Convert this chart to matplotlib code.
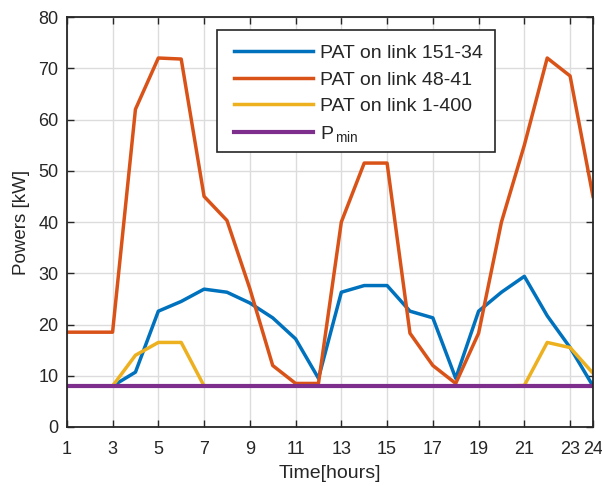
import numpy as np
import matplotlib
matplotlib.use('Agg')
import matplotlib.pyplot as plt
from matplotlib.patches import Rectangle

plt.rcParams['font.family'] = ['Liberation Sans', 'DejaVu Sans']

# Data
hours = list(range(1, 25))
pat_151_34 = [8, 8, 8, 10.7, 22.6, 24.5, 26.9, 26.3, 24.2, 21.3, 17.2, 9.5,
              26.3, 27.6, 27.6, 22.6, 21.3, 9.5, 22.6, 26.3, 29.4, 21.7, 15.5, 8]
pat_48_41 = [18.5, 18.5, 18.5, 62, 72, 71.8, 45, 40.3, 27, 12, 8.5, 8.5,
             40, 51.5, 51.5, 18.3, 12, 8.5, 18.3, 40, 55, 72, 68.5, 45]
pat_1_400 = [8, 8, 8, 14, 16.5, 16.5, 8, 8, 8, 8, 8, 8,
             8, 8, 8, 8, 8, 8, 8, 8, 8.1, 16.5, 15.5, 10.5]
p_min = [8] * 24

xticks = [1, 3, 5, 7, 9, 11, 13, 15, 17, 19, 21, 23, 24]
yticks = list(range(0, 81, 10))

txt = '#262626'

fig = plt.figure(figsize=(6.02, 4.86), dpi=100)
ax = fig.add_axes([0.111, 0.1214, 0.874, 0.8436])

lw = 2.5
ax.plot(hours, pat_151_34, color='#0072BD', lw=lw, label='PAT on link 151-34')
ax.plot(hours, pat_48_41, color='#D95319', lw=lw, label='PAT on link 48-41')
ax.plot(hours, pat_1_400, color='#EDB120', lw=lw, label='PAT on link 1-400')
ax.plot(hours, p_min, color='#7E2F8E', lw=lw + 0.5, label=r'P$_{\mathregular{\,min}}$')

ax.set_xlim(1, 24)
ax.set_ylim(0, 80)
ax.set_xticks(xticks)
ax.set_yticks(yticks)
ax.grid(True, color='#dcdcdc', lw=1)
ax.set_axisbelow(True)
ax.tick_params(direction='in', top=True, right=True, length=5, width=1,
               labelsize=13, colors=txt, pad=6)
ax.tick_params(axis='x', pad=10)
for s in ax.spines.values():
    s.set_color(txt)
    s.set_linewidth(1.3)

ax.set_xlabel('Time[hours]', fontsize=14, color=txt, labelpad=5)
ax.set_ylabel('Powers [kW]', fontsize=13.5, color=txt, labelpad=6)

# legend box drawn separately so its size matches the reference
box = Rectangle((0.285, 0.671), 0.529, 0.297, transform=ax.transAxes,
                facecolor='white', edgecolor=txt, lw=1.2, zorder=4)
ax.add_patch(box)
leg = ax.legend(loc='upper left', bbox_to_anchor=(0.291, 0.966), borderaxespad=0,
                fontsize=14, handlelength=4.1, handletextpad=0.35, labelspacing=0.46,
                frameon=False, borderpad=0.7)
leg.set_zorder(5)
for t in leg.get_texts():
    t.set_color(txt)

fig.savefig('out.png', dpi=100)
